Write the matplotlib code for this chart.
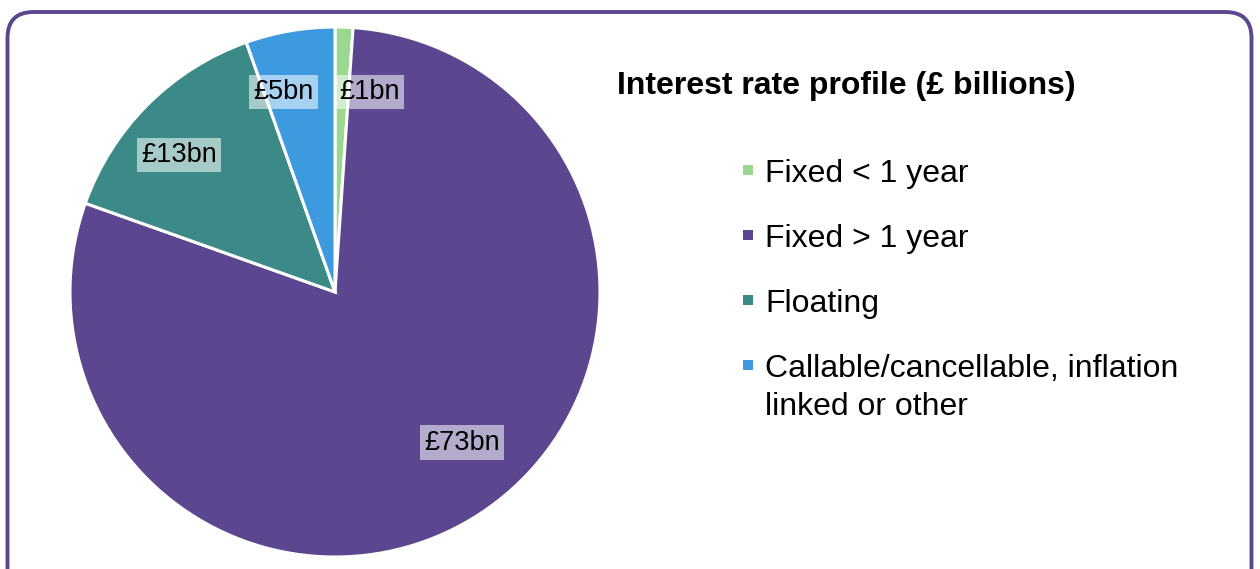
import matplotlib.pyplot as plt
from matplotlib.patches import FancyBboxPatch, Rectangle
import numpy as np

plt.rcParams['font.family'] = ['Liberation Sans', 'DejaVu Sans']

categories = ['Fixed < 1 year', 'Fixed > 1 year', 'Floating',
              'Callable/cancellable, inflation\nlinked or other']
values = [1, 73, 13, 5]
colors = ['#9bd88f', '#5b468f', '#3c8a87', '#3e9ade']
title = 'Interest rate profile (£ billions)'

# data label placement (pie coords) and alignment
label_pos = [(0.015, 0.755, 'left'), (0.48, -0.568, 'center'),
             (-0.59, 0.517, 'center'), (-0.08, 0.755, 'right')]

W, H = 1260, 569
fig = plt.figure(figsize=(W / 100, H / 100), dpi=100)

# overlay in pixel units for frame and legend
bg = fig.add_axes([0, 0, 1, 1])
bg.set_xlim(0, W)
bg.set_ylim(H, 0)
bg.axis('off')
frame = FancyBboxPatch((7.5, 12), 1244, 620,
                       boxstyle='round,pad=0,rounding_size=26',
                       facecolor='white', edgecolor='#5b468f', linewidth=2.8)
bg.add_patch(frame)

# pie
cx, cy, r = 335, 292, 265
ax = fig.add_axes([(cx - r) / W, (H - cy - r) / H, 2 * r / W, 2 * r / H])
wedges, _ = ax.pie(values, colors=colors, startangle=90, counterclock=False,
                   radius=1, wedgeprops=dict(edgecolor='white', linewidth=2.2))
ax.set_xlim(-1, 1)
ax.set_ylim(-1, 1)
ax.set_aspect('equal')
ax.axis('off')

for v, (x, y, ha) in zip(values, label_pos):
    ax.text(x, y, f'£{v}bn', ha=ha, va='center', fontsize=19.5, color='black',
            bbox=dict(boxstyle='square,pad=0.15', facecolor='white',
                      edgecolor='none', alpha=0.55))

# title and legend
bg.text(846, 86, title, ha='center', va='center', fontsize=23,
        fontweight='bold', color='black')
row_y = [170, 235, 300, 365]
for lab, col, y in zip(categories, colors, row_y):
    bg.add_patch(Rectangle((743, y - 5), 10, 10, facecolor=col, edgecolor='none'))
    bg.text(765, y + 11.5, lab.split('\n')[0], ha='left', va='baseline',
            fontsize=23, color='black')
    for k, extra in enumerate(lab.split('\n')[1:], start=1):
        bg.text(765, y + 11.5 + 38 * k, extra, ha='left', va='baseline',
                fontsize=23, color='black')

fig.savefig('out.png', dpi=100)
